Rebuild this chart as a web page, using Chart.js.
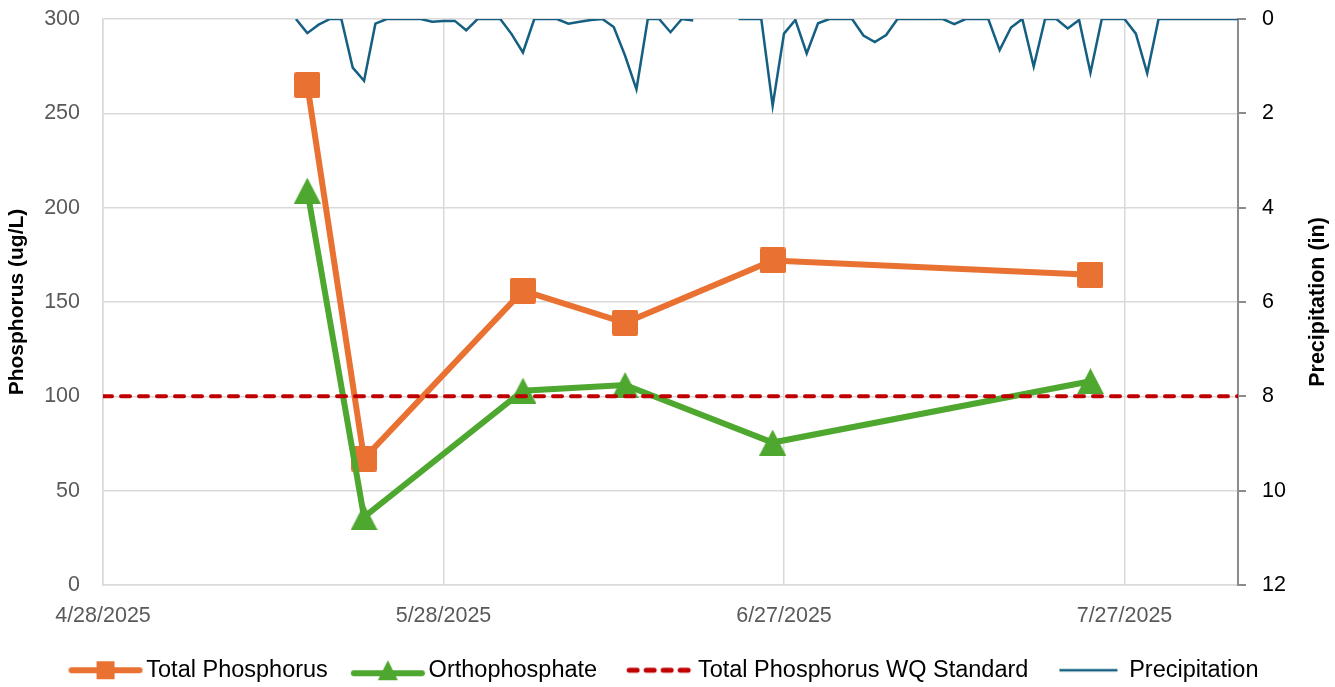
<!DOCTYPE html>
<html>
<head>
<meta charset="utf-8">
<title>Phosphorus and Precipitation</title>
<script src="https://cdn.jsdelivr.net/npm/chart.js@4.4.1/dist/chart.umd.min.js"></script>
<style>
  html, body { margin: 0; padding: 0; background: #fff; }
  #wrap { width: 1335px; height: 687px; }
</style>
</head>
<body>
<div id="wrap"><canvas id="phosChart" width="1335" height="687"></canvas></div>
<script>
// x axis runs from 4/28/2025 for 100 days, ticks every 30 days
const axisStart = '2025-04-28';
const axisDays = 100;
const tickStepDays = 30;

// sampling events (ug/L)
const sampleDates = ['2025-05-16', '2025-05-21', '2025-06-04', '2025-06-13', '2025-06-26', '2025-07-24'];
const totalPhosphorus = [265, 67, 156, 139, 172, 164.5];
const orthophosphate = [209, 36, 103, 106, 75.5, 108];
const wqStandard = 100;

// daily precipitation (in), starting 5/15/2025; null = no record
const precipStart = '2025-05-15';
const precipitation = [
    0, 0.30, 0.12, 0, 0, 1.03, 1.31, 0.10, 0, 0,
    0, 0, 0.06, 0.04, 0.04, 0.24, 0, 0, 0, 0.32,
    0.71, 0, 0, 0, 0.10, 0.06, 0.02, 0, 0.17, 0.78,
    1.49, 0, 0, 0.28, 0, 0.03, null, null, null, 0,
    0, 0, 1.84, 0.31, 0.02, 0.73, 0.09, 0, 0, 0,
    0.35, 0.49, 0.34, 0, 0, 0, 0, 0, 0.11, 0,
    0, 0, 0.66, 0.18, 0, 1.01, 0, 0, 0.20, 0.02,
    1.14, 0, 0, 0, 0.31, 1.15, 0, 0, 0, 0,
    0, 0, 0, 0
];

const DAY = 86400000;
const base = Date.parse(axisStart + 'T00:00:00Z');
const dayOf = (d) => (Date.parse(d + 'T00:00:00Z') - base) / DAY;
const fmtDay = (v) => {
    const d = new Date(base + v * DAY);
    return (d.getUTCMonth() + 1) + '/' + d.getUTCDate() + '/' + d.getUTCFullYear();
};

const FONT = '"Liberation Sans", Arial, sans-serif';
const ORANGE = '#E97132';
const GREEN = '#4EA72E';
const RED = '#C00000';
const BLUE = '#156082';

const tpPoints = sampleDates.map((d, i) => ({ x: dayOf(d), y: totalPhosphorus[i] }));
const opPoints = sampleDates.map((d, i) => ({ x: dayOf(d), y: orthophosphate[i] }));
const wqPoints = [{ x: 0, y: wqStandard }, { x: axisDays, y: wqStandard }];
const p0 = dayOf(precipStart);
const precipPoints = precipitation.map((v, i) => ({ x: p0 + i, y: v }));

function makeIcon(w, h, draw) {
    const c = document.createElement('canvas');
    c.width = w; c.height = h;
    draw(c.getContext('2d'), w, h);
    return c;
}

// point markers centred on their box, like the spreadsheet ones
const squareMark = makeIcon(26, 26, (g, w, h) => {
    g.fillStyle = ORANGE;
    g.beginPath(); g.roundRect(0, 0, w, h, 2); g.fill();
});
const triangleMark = makeIcon(27, 26, (g, w, h) => {
    g.fillStyle = GREEN;
    g.beginPath(); g.moveTo(w / 2, 0); g.lineTo(w, h); g.lineTo(0, h); g.closePath(); g.fill();
});

// legend icons: line with marker
const icons = [
    makeIcon(76, 24, (g, w, h) => {
        g.strokeStyle = ORANGE; g.lineWidth = 6; g.lineCap = 'round';
        g.beginPath(); g.moveTo(4, h / 2); g.lineTo(w - 4, h / 2); g.stroke();
        g.fillStyle = ORANGE; g.fillRect(w / 2 - 9, h / 2 - 9, 18, 18);
    }),
    makeIcon(76, 24, (g, w, h) => {
        g.strokeStyle = GREEN; g.lineWidth = 6; g.lineCap = 'round';
        g.beginPath(); g.moveTo(4, h / 2 + 3); g.lineTo(w - 4, h / 2 + 3); g.stroke();
        g.fillStyle = GREEN;
        g.beginPath(); g.moveTo(w / 2, 2); g.lineTo(w / 2 + 10, 22); g.lineTo(w / 2 - 10, 22); g.closePath(); g.fill();
    }),
    makeIcon(76, 24, (g, w, h) => {
        g.strokeStyle = RED; g.lineWidth = 5; g.lineCap = 'round';
        g.setLineDash([8, 9]);
        g.beginPath(); g.moveTo(10, h / 2); g.lineTo(w - 4, h / 2); g.stroke();
    }),
    makeIcon(62, 24, (g, w, h) => {
        g.strokeStyle = BLUE; g.lineWidth = 2.5;
        g.beginPath(); g.moveTo(2, h / 2); g.lineTo(w - 2, h / 2); g.stroke();
    })
];

// right axis title reads bottom-to-top, so draw it by hand
const rightTitle = {
    id: 'rightTitle',
    afterDraw(chart) {
        const { ctx, chartArea } = chart;
        const s = chart.scales.y1;
        ctx.save();
        ctx.translate(s.right - 17, (chartArea.top + chartArea.bottom) / 2);
        ctx.rotate(-Math.PI / 2);
        ctx.font = 'bold 21.5px ' + FONT;
        ctx.fillStyle = '#000';
        ctx.textAlign = 'center';
        ctx.textBaseline = 'middle';
        ctx.fillText('Precipitation (in)', 0, 0);
        ctx.restore();
    }
};

// fixed axis widths; drop the label overhang padding so the plot starts at the top
function fixWidth(w) {
    return (s) => { s.width = w; s.paddingTop = 0; s.paddingBottom = 0; };
}

document.addEventListener('DOMContentLoaded', () => {
    const ctx = document.getElementById('phosChart').getContext('2d');
    const defaultLabels = Chart.defaults.plugins.legend.labels.generateLabels;

    new Chart(ctx, {
        type: 'line',
        data: {
            datasets: [{
                label: 'Total Phosphorus',
                data: tpPoints,
                borderColor: ORANGE,
                backgroundColor: ORANGE,
                borderWidth: 6,
                pointStyle: squareMark,
                pointRadius: 13,
                yAxisID: 'y',
                order: 4
            }, {
                label: 'Orthophosphate',
                data: opPoints,
                borderColor: GREEN,
                backgroundColor: GREEN,
                borderWidth: 6,
                pointStyle: triangleMark,
                pointRadius: 13,
                yAxisID: 'y',
                order: 3
            }, {
                label: 'Total Phosphorus WQ Standard',
                data: wqPoints,
                borderColor: RED,
                backgroundColor: RED,
                borderWidth: 4,
                borderDash: [9, 9],
                borderCapStyle: 'round',
                pointRadius: 0,
                yAxisID: 'y',
                order: 2
            }, {
                label: 'Precipitation',
                data: precipPoints,
                borderColor: BLUE,
                backgroundColor: BLUE,
                borderWidth: 2.5,
                pointRadius: 0,
                spanGaps: false,
                yAxisID: 'y1',
                order: 1
            }]
        },
        options: {
            responsive: false,
            animation: false,
            layout: { padding: { top: 18, left: 0, right: 0, bottom: -5 } },
            plugins: {
                tooltip: { enabled: false },
                legend: {
                    display: true,
                    position: 'bottom',
                    labels: {
                        usePointStyle: true,
                        pointStyleWidth: 58,
                        padding: 31,
                        color: '#000',
                        font: { family: FONT, size: 23.5 },
                        generateLabels(chart) {
                            const items = defaultLabels(chart);
                            items.sort((a, b) => a.datasetIndex - b.datasetIndex);
                            items.forEach(it => { it.pointStyle = icons[it.datasetIndex]; });
                            return items;
                        }
                    }
                }
            },
            scales: {
                x: {
                    type: 'linear',
                    min: 0,
                    max: axisDays,
                    afterFit(s) {
                        const lh = s.chart.legend ? s.chart.legend.height : 0;
                        s.height = s.chart.height + 5 - lh - 585;
                    },
                    ticks: {
                        stepSize: tickStepDays,
                        includeBounds: false,
                        maxRotation: 0,
                        padding: 18,
                        color: '#595959',
                        font: { family: FONT, size: 21.5 },
                        callback: (v) => fmtDay(v)
                    },
                    grid: { color: '#d9d9d9', lineWidth: 1.5, drawTicks: false },
                    border: { color: '#d9d9d9', width: 1.5 }
                },
                y: {
                    position: 'left',
                    min: 0,
                    max: 300,
                    afterFit: fixWidth(103),
                    ticks: {
                        stepSize: 50,
                        padding: 23,
                        color: '#595959',
                        font: { family: FONT, size: 21.5 }
                    },
                    grid: { color: '#d9d9d9', lineWidth: 1.5, drawTicks: false },
                    border: { color: '#d9d9d9', width: 1.5 },
                    title: {
                        display: true,
                        text: 'Phosphorus (ug/L)',
                        color: '#000',
                        padding: { top: 5, bottom: 0 },
                        font: { family: FONT, size: 21, weight: 'bold' }
                    }
                },
                y1: {
                    position: 'right',
                    min: 0,
                    max: 12,
                    reverse: true,
                    afterFit: fixWidth(97),
                    ticks: {
                        stepSize: 2,
                        padding: 16,
                        color: '#000',
                        font: { family: FONT, size: 21.5 }
                    },
                    grid: { drawOnChartArea: false, color: '#8c8c8c', lineWidth: 2, tickLength: 8 },
                    border: { color: '#8c8c8c', width: 2 }
                }
            }
        },
        plugins: [rightTitle]
    });
});
</script>
</body>
</html>
